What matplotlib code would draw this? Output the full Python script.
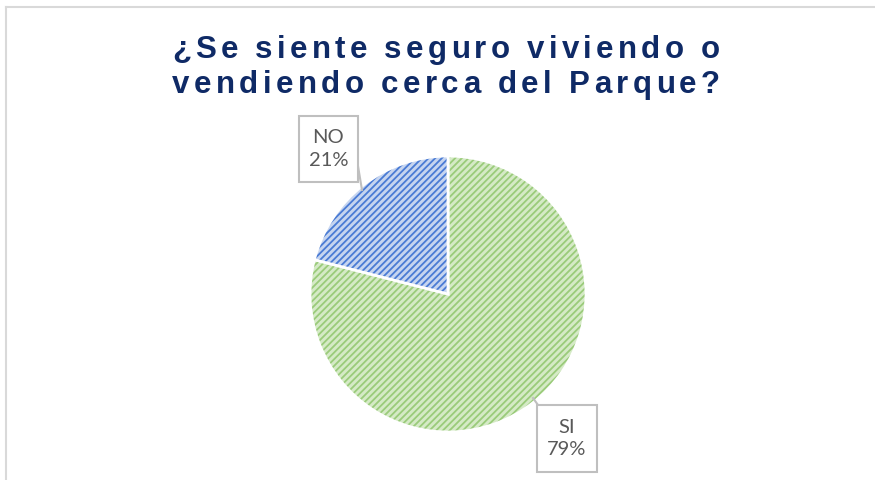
import matplotlib
matplotlib.use("Agg")
import matplotlib.pyplot as plt
from matplotlib.lines import Line2D
import matplotlib as mpl

categories = ["SI", "NO"]
values = [79, 21]
fills = ["#D5EAC6", "#C6D5F0"]
hatch_colors = ["#9ACB7A", "#4A7BD4"]
title_lines = ["¿Se siente seguro viviendo o", "vendiendo cerca del Parque?"]

mpl.rcParams['hatch.linewidth'] = 1.3
W, H = 875, 480
fig = plt.figure(figsize=(W/100, H/100), dpi=100)
fig.patch.set_facecolor("white")

# outer frame
fig.add_artist(Line2D([6/W, 1.0], [1-7/H, 1-7/H], transform=fig.transFigure, color="#D9D9D9", lw=1.5))
fig.add_artist(Line2D([6/W, 6/W], [0, 1-7/H], transform=fig.transFigure, color="#D9D9D9", lw=1.5))

# pie axes
cx, cy, r = 448, 294, 138
ax = fig.add_axes([(cx-r)/W, 1-(cy+r)/H, 2*r/W, 2*r/H])
wedges, _ = ax.pie(values, startangle=90, counterclock=False, radius=1.0,
                   colors=fills, wedgeprops=dict(edgecolor="white", linewidth=2))
for w, hc in zip(wedges, hatch_colors):
    w.set_hatch("/////")
    w._hatch_color = mpl.colors.to_rgba(hc)
ax.set_xlim(-1, 1); ax.set_ylim(-1, 1)
ax.set_aspect("equal")
ax.axis("off")

# title with letter spacing
fig.canvas.draw()
renderer = fig.canvas.get_renderer()
title_color = "#0F2A66"
fam = "Liberation Sans"
fs = 22.5
baselines = [58, 93]
for line, yb in zip(title_lines, baselines):
    widths = []
    for ch in line:
        t = fig.text(0, 0, "a" if ch == " " else ch, fontsize=fs, fontweight="bold", family=fam)
        bb = t.get_window_extent(renderer)
        widths.append(bb.width * (0.5 if ch == " " else 1.0))
        t.remove()
    target = 548
    spacing = (target - sum(widths)) / (len(line) - 1)
    x = 446 - target / 2
    for ch, wdt in zip(line, widths):
        if ch != " ":
            fig.text(x/W, 1-yb/H, ch, fontsize=fs, fontweight="bold", family=fam,
                     color=title_color, ha="left", va="baseline")
        x += wdt + spacing

# data labels with boxes
label_color = "#595959"
def label_box(x0, y0, x1, y1, text, leader):
    fig.add_artist(plt.Rectangle((x0/W, 1-y1/H), (x1-x0)/W, (y1-y0)/H, transform=fig.transFigure,
                                 facecolor="white", edgecolor="#BFBFBF", lw=1.5, zorder=5))
    fig.text(((x0+x1)/2)/W, 1-((y0+y1)/2)/H, text, ha="center", va="center", fontsize=14.5,
             color=label_color, linespacing=1.4, zorder=6, family="Lato")
    (lx0, ly0), (lx1, ly1) = leader
    fig.add_artist(Line2D([lx0/W, lx1/W], [1-ly0/H, 1-ly1/H], transform=fig.transFigure,
                          color="#BFBFBF", lw=1.5, zorder=4))

label_box(299, 116, 358, 182, f"{categories[1]}\n{values[1]}%", ((357, 160), (362, 190)))
label_box(537, 405, 597, 472, f"{categories[0]}\n{values[0]}%", ((538, 405), (533, 398)))

fig.savefig("out.png", dpi=100, facecolor="white")
